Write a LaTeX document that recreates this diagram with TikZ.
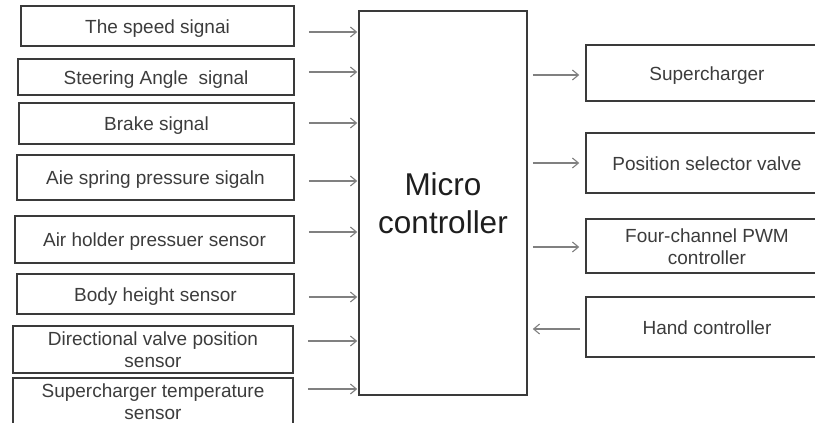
\documentclass[tikz,border=0pt]{standalone}
\usepackage{fontspec}
\setmainfont{Liberation Sans}
\usetikzlibrary{arrows.meta}
\definecolor{boxline}{HTML}{3A3A3A}
\definecolor{txtgray}{HTML}{3C3C3C}
\definecolor{arrgray}{HTML}{808080}
\definecolor{bigtxt}{HTML}{1E1E1E}
\begin{document}
\begin{tikzpicture}[x=1pt,y=-1pt,
  blk/.style={draw=boxline, line width=1.5pt, rectangle, inner sep=0pt,
    align=center, text=txtgray, font=\fontsize{19}{22}\selectfont,
    text height=14pt, text depth=0pt},
  twoline/.style={text height=36pt, text depth=0pt},
  sig/.style={draw=arrgray, line width=1.1pt,
    -{Straight Barb[length=6pt,width=10pt]}},
  inarrow/.style={sig, shorten <=14pt, shorten >=1pt},
  outarrow/.style={sig, shorten <=5pt, shorten >=6pt}]
\useasboundingbox (0,0) rectangle (815,423);
\clip (0,0) rectangle (815,423);

% input signals
\node[blk, minimum width=273pt, minimum height=40pt] (s1) at (157.5,26) {The speed signai};
\node[blk, minimum width=276pt, minimum height=36pt] (s2) at (156,77) {Steering Angle\ \ signal};
\node[blk, minimum width=275pt, minimum height=41pt] (s3) at (156.5,123.5) {Brake signal};
\node[blk, minimum width=277pt, minimum height=45pt] (s4) at (155.5,177.5) {Aie spring pressure sigaln};
\node[blk, minimum width=279pt, minimum height=47pt] (s5) at (154.5,239.5) {Air holder pressuer sensor};
\node[blk, minimum width=277pt, minimum height=40pt] (s6) at (155.5,294) {Body height sensor};
\node[blk, twoline, minimum width=280pt, minimum height=47pt] (s7) at (153,349.5) {Directional valve position\\sensor};
\node[blk, twoline, minimum width=280pt, minimum height=46pt] (s8) at (153,401) {Supercharger temperature\\sensor};

% controller
\node[blk, minimum width=168pt, minimum height=384pt, text=bigtxt,
  font=\fontsize{31.5}{38}\selectfont, text height=60.6pt, text depth=0pt]
  (mc) at (443,203) {Micro\\controller};

% outputs and hand input
\node[blk, minimum width=242pt, minimum height=56pt] (o1) at (707,73) {Supercharger};
\node[blk, minimum width=242pt, minimum height=60pt] (o2) at (707,163) {Position selector valve};
\node[blk, twoline, minimum width=242pt, minimum height=54pt] (o3) at (707,246) {Four-channel PWM\\controller};
\node[blk, minimum width=242pt, minimum height=60pt] (o4) at (707,327) {Hand controller};

% signal arrows into the controller
\draw[inarrow] (s1.east |- 0,32) -- (mc.west |- 0,32);
\draw[inarrow] (s2.east |- 0,72) -- (mc.west |- 0,72);
\draw[inarrow] (s3.east |- 0,123) -- (mc.west |- 0,123);
\draw[inarrow] (s4.east |- 0,181) -- (mc.west |- 0,181);
\draw[inarrow] (s5.east |- 0,232) -- (mc.west |- 0,232);
\draw[inarrow] (s6.east |- 0,297) -- (mc.west |- 0,297);
\draw[inarrow] (s7.east |- 0,341) -- (mc.west |- 0,341);
\draw[inarrow] (s8.east |- 0,389) -- (mc.west |- 0,389);

% controller outputs
\draw[outarrow] (mc.east |- 0,75) -- (o1.west |- 0,75);
\draw[outarrow] (mc.east |- 0,163) -- (o2.west |- 0,163);
\draw[outarrow] (mc.east |- 0,247) -- (o3.west |- 0,247);
\draw[sig, shorten <=5pt, shorten >=5pt] (o4.west |- 0,329) -- (mc.east |- 0,329);
\end{tikzpicture}
\end{document}
